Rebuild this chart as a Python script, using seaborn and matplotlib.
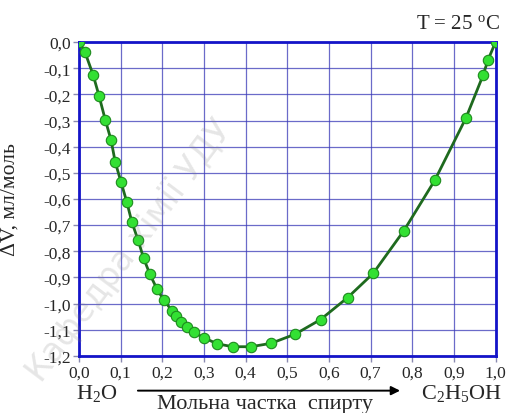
import numpy as np
import pandas as pd
import matplotlib
matplotlib.use("Agg")
import matplotlib.pyplot as plt
import seaborn as sns

# mole fraction of ethanol and excess volume
x_frac = [0.0, 0.014, 0.034, 0.048, 0.063, 0.077, 0.087, 0.101, 0.115, 0.127,
          0.142, 0.155, 0.170, 0.187, 0.203, 0.223, 0.232, 0.245, 0.259, 0.276,
          0.300, 0.332, 0.369, 0.413, 0.461, 0.519, 0.580, 0.645, 0.706, 0.780,
          0.854, 0.929, 0.970, 0.982, 1.0]
dV = [0.0, -0.037, -0.126, -0.205, -0.297, -0.375, -0.459, -0.536, -0.613, -0.689,
      -0.758, -0.826, -0.887, -0.944, -0.985, -1.027, -1.048, -1.069, -1.088, -1.110,
      -1.131, -1.154, -1.165, -1.165, -1.152, -1.117, -1.061, -0.977, -0.885, -0.721,
      -0.529, -0.290, -0.127, -0.068, 0.0]

x_ticks = [round(0.1 * i, 1) for i in range(11)]
y_ticks = [round(-0.1 * i, 1) + 0.0 for i in range(13)]

df = pd.DataFrame({"x": x_frac, "dV": dV})


def comma(v):
    s = f"{v:.1f}".replace(".", ",")
    return "0,0" if s == "-0,0" else s


sns.set_style("white")
plt.rcParams["font.family"] = ["Liberation Serif", "DejaVu Serif"]
plt.rcParams["mathtext.default"] = "regular"

fig = plt.figure(figsize=(5.08, 4.14), dpi=100)
ax = fig.add_axes([0.1555, 0.138, 0.82, 0.758])

# faint watermark
fig.text(0.255, 0.395, "Кафедра хімії УДУ", family="DejaVu Sans", fontsize=24,
         color="gray", alpha=0.2, rotation=53, ha="center", va="center", zorder=0)

sns.lineplot(data=df, x="x", y="dV", ax=ax, color="#1e6a1e", linewidth=2.0,
             marker="o", markersize=7.5, markerfacecolor="#33e033",
             markeredgecolor="#1e8a1e", markeredgewidth=0.8, zorder=5)

ax.set_xlim(0, 1.0)
ax.set_ylim(-1.2, 0)
ax.set_xticks(x_ticks)
ax.set_yticks(y_ticks)
ax.set_xticklabels([comma(v) for v in x_ticks])
ax.set_yticklabels([comma(v) for v in y_ticks])
ax.tick_params(axis="both", labelsize=12.5, length=4, width=1, color="#8a8ab0",
               direction="out", pad=2, bottom=True, left=True)
ax.grid(True, color="#3a3ab8", linewidth=0.9, alpha=0.75)
for s in ax.spines.values():
    s.set_color("#1414c8")
    s.set_linewidth(2.0)
ax.set_xlabel("")
ax.set_ylabel("ΔV, мл/моль", fontsize=15.5, labelpad=0)
ax.yaxis.set_label_coords(-0.142, 0.5)

fig.text(0.984, 0.94, "T = 25 $^o$C", fontsize=15, ha="right", va="center")
fig.text(0.191, 0.05, "H$_2$O", fontsize=16, ha="center", va="center")
fig.text(0.909, 0.05, "C$_2$H$_5$OH", fontsize=16, ha="center", va="center")
fig.text(0.522, 0.024, "Мольна частка  спирту", fontsize=16, ha="center", va="center")
fig.add_artist(matplotlib.patches.FancyArrowPatch(
    (0.266, 0.054), (0.793, 0.054), transform=fig.transFigure,
    arrowstyle="-|>", mutation_scale=13, color="black", linewidth=1.4))

fig.savefig("out.png", dpi=100)
